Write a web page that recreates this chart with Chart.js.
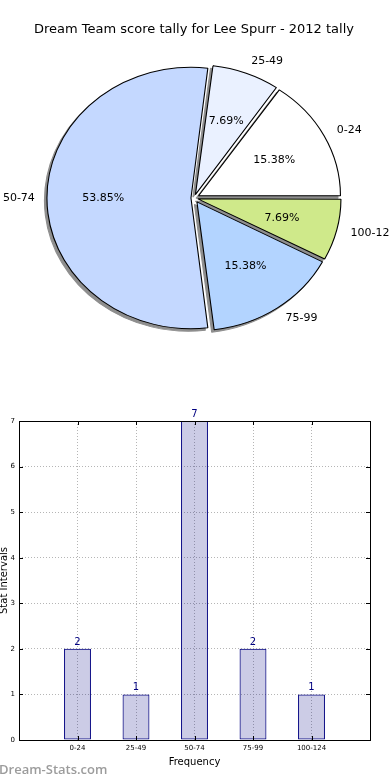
<!DOCTYPE html>
<html>
<head>
<meta charset="utf-8">
<script src="https://cdn.jsdelivr.net/npm/chart.js@4.4.1/dist/chart.umd.min.js"></script>
<style>
  body { margin: 0; background: #fff; width: 390px; height: 780px; overflow: hidden; position: relative; }
  #pieBox { position: absolute; left: 0; top: 0; width: 390px; height: 390px; }
  #barBox { position: absolute; left: 0; top: 390px; width: 390px; height: 390px; }
  #watermark { position: absolute; left: -1px; top: 760px; font: 600 13px 'Open Sans', sans-serif; color: #9c9c9c; }
</style>
</head>
<body>
<div id="pieBox"><canvas id="pieChart" width="390" height="390"></canvas></div>
<div id="barBox"><canvas id="barChart" width="390" height="390"></canvas></div>
<div id="watermark">Dream-Stats.com</div>
<script>
// score intervals and how many rounds fell in each
const categories = ['0-24', '25-49', '50-74', '75-99', '100-124'];
const tallies = [2, 1, 7, 2, 1];
const sliceColors = ['#ffffff', '#eaf1ff', '#c4d8ff', '#b3d4ff', '#cfe98a'];
const yTicks = [0, 1, 2, 3, 4, 5, 6, 7];

const total = tallies.reduce((a, b) => a + b, 0);
const stretchX = 141 / 128;   // the original pie is an ellipse
const explodePx = 5.5;
const shadowColor = '#8e8e8e';

// chart.js goes clockwise, matplotlib went counter-clockwise from 3 o'clock
const pieLabels = categories.slice().reverse();
const pieValues = tallies.slice().reverse();
const pieColors = sliceColors.slice().reverse();

// arc "offset" is scaled inside chart.js, undo that so every slice moves explodePx
function sliceOffset(ctx) {
  const c = 2 * Math.PI * pieValues[ctx.dataIndex] / total;
  const fix = 1 - Math.sin(Math.min(Math.PI, c));
  return 4 * explodePx / (1 + fix);
}

function stretch(ctx, arc) {
  ctx.translate(arc.x, arc.y);
  ctx.scale(stretchX, 1);
  ctx.translate(-arc.x, -arc.y);
}

const ellipsePlugin = {
  id: 'ellipse',
  beforeDatasetsDraw(chart) {
    const arcs = chart.getDatasetMeta(0).data;
    const ctx = chart.ctx;
    // shadow pass first, under every slice
    ctx.save();
    ctx.translate(-2.5, 2.5);
    stretch(ctx, arcs[0]);
    arcs.forEach(arc => {
      const orig = arc.options;
      arc.options = Object.assign({}, orig, { backgroundColor: shadowColor, borderColor: shadowColor });
      arc.draw(ctx);
      arc.options = orig;
    });
    ctx.restore();
    ctx.save();
    stretch(ctx, arcs[0]);
  },
  afterDatasetsDraw(chart) {
    const ctx = chart.ctx;
    ctx.restore();
    const meta = chart.getDatasetMeta(0);
    ctx.save();
    ctx.font = '11px "DejaVu Sans"';
    ctx.fillStyle = '#000';
    ctx.textBaseline = 'middle';
    meta.data.forEach((arc, i) => {
      const mid = (arc.startAngle + arc.endAngle) / 2;
      const r = arc.outerRadius;
      const pos = d => [arc.x + Math.cos(mid) * (explodePx + d) * stretchX, arc.y + Math.sin(mid) * (explodePx + d)];
      const [lx, ly] = pos(1.1 * r);
      ctx.textAlign = Math.cos(mid) > 0 ? 'left' : 'right';
      ctx.fillText(pieLabels[i], lx + (Math.cos(mid) > 0 ? 0 : 2), ly);
      const [px, py] = pos(0.6 * r);
      ctx.textAlign = 'center';
      ctx.fillText((pieValues[i] / total * 100).toFixed(2) + '%', px, py);
    });
    ctx.restore();
  }
};

new Chart(document.getElementById('pieChart'), {
  type: 'pie',
  data: {
    labels: pieLabels,
    datasets: [{
      data: pieValues,
      backgroundColor: pieColors,
      borderColor: '#000',
      borderWidth: 1,
      offset: sliceOffset,
      hoverOffset: 0,
      radius: 128,
      rotation: 90,
      clip: false
    }]
  },
  options: {
    responsive: false,
    animation: false,
    layout: { padding: { top: 0, bottom: 41.6, left: 0, right: 2 } },
    plugins: {
      legend: { display: false },
      tooltip: { enabled: false },
      title: {
        display: true,
        text: 'Dream Team score tally for Lee Spurr - 2012 tally',
        color: '#000',
        font: { family: 'DejaVu Sans', size: 13, weight: 'normal' },
        padding: { top: 22, bottom: 10 }
      }
    }
  },
  plugins: [ellipsePlugin]
});

// bar chart: empty slots at both ends so the frame runs one whole step past the bars
const barLabels = [''].concat(categories, ['']);
const barData = [null].concat(tallies, [null]);

const framePlugin = {
  id: 'frame',
  afterDraw(chart) {
    const { ctx, chartArea: a, scales } = chart;
    ctx.save();
    ctx.strokeStyle = '#000';
    ctx.lineWidth = 1;
    ctx.beginPath();
    scales.y.ticks.forEach(t => {
      const y = Math.round(scales.y.getPixelForValue(t.value)) + 0.5;
      ctx.moveTo(a.left, y); ctx.lineTo(a.left + 4, y);
      ctx.moveTo(a.right - 4, y); ctx.lineTo(a.right, y);
    });
    categories.forEach((c, i) => {
      const x = Math.round(scales.x.getPixelForValue(i + 1)) + 0.5;
      ctx.moveTo(x, a.bottom); ctx.lineTo(x, a.bottom - 4);
      ctx.moveTo(x, a.top); ctx.lineTo(x, a.top + 4);
    });
    ctx.stroke();
    ctx.strokeRect(Math.round(a.left) + 0.5, Math.round(a.top) + 0.5, Math.round(a.right - a.left), Math.round(a.bottom - a.top));
    ctx.restore();
  }
};

const valueLabels = {
  id: 'valueLabels',
  afterDraw(chart) {
    const ctx = chart.ctx;
    ctx.save();
    ctx.font = '10px "DejaVu Sans"';
    ctx.fillStyle = '#000080';
    ctx.textAlign = 'center';
    ctx.textBaseline = 'alphabetic';
    chart.getDatasetMeta(0).data.forEach((bar, i) => {
      if (barData[i] == null) return;
      ctx.fillText(barData[i], bar.x, bar.y - 4);
    });
    ctx.restore();
  }
};

new Chart(document.getElementById('barChart'), {
  type: 'bar',
  data: {
    labels: barLabels,
    datasets: [{
      data: barData,
      backgroundColor: 'rgba(0,0,128,0.2)',
      borderColor: '#000080',
      borderWidth: 1,
      borderSkipped: false,
      barPercentage: 0.46,
      categoryPercentage: 1
    }]
  },
  options: {
    responsive: false,
    animation: false,
    layout: { padding: { top: 31, right: 20, left: 0, bottom: 0 } },
    plugins: { legend: { display: false }, tooltip: { enabled: false } },
    scales: {
      x: {
        offset: false,
        grid: { offset: false, color: '#b5b5b5', drawTicks: false },
        border: { display: false, dash: [1, 2] },
        ticks: { padding: 4, color: '#000', autoSkip: false, maxRotation: 0, font: { family: 'DejaVu Sans', size: 7 } },
        title: { display: true, text: 'Frequency', color: '#000', font: { family: 'DejaVu Sans', size: 10 }, padding: { top: 0, bottom: 12 } },
        afterFit: s => { s.height = 40; }
      },
      y: {
        min: yTicks[0],
        max: yTicks[yTicks.length - 1],
        grid: { color: '#b5b5b5', drawTicks: false },
        border: { display: false, dash: [1, 2] },
        ticks: { stepSize: 1, padding: 4, color: '#000', font: { family: 'DejaVu Sans', size: 7 } },
        title: { display: true, text: 'Stat Intervals', color: '#000', font: { family: 'DejaVu Sans', size: 10 }, padding: { top: -2, bottom: 0 } },
        afterFit: s => { s.width = 19; }
      }
    }
  },
  plugins: [framePlugin, valueLabels]
});
</script>
</body>
</html>
